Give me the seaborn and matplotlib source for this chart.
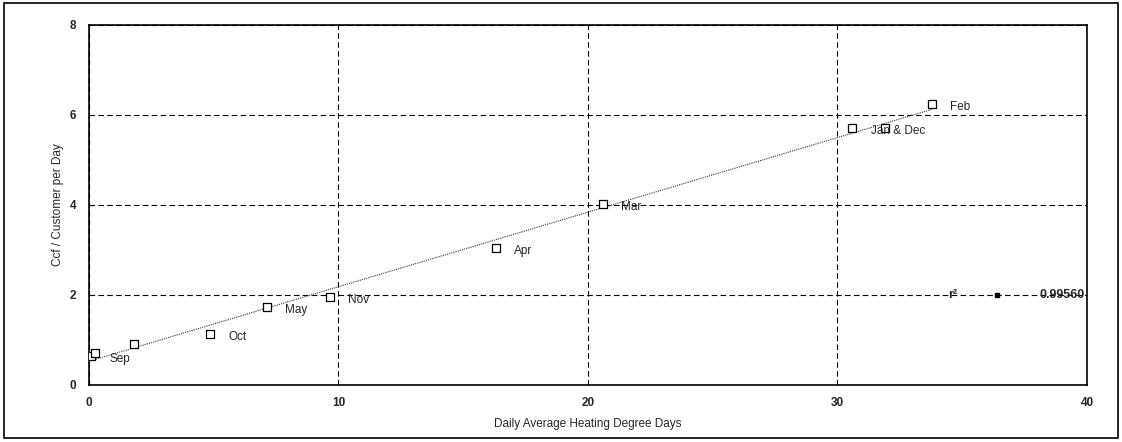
import numpy as np
import pandas as pd
import seaborn as sns
import matplotlib.pyplot as plt
from matplotlib.patches import Rectangle

# data
hdd = [0.1, 0.25, 1.8, 4.85, 7.15, 9.65, 16.3, 20.6, 30.6, 31.9, 33.8]
ccf = [0.64, 0.72, 0.92, 1.13, 1.73, 1.96, 3.04, 4.02, 5.71, 5.70, 6.24]
labels = ['Sep', '', '', 'Oct', 'May', 'Nov', 'Apr', 'Mar', 'Jan & Dec', '', 'Feb']
r_squared = '0.99560'

x_ticks = [0, 10, 20, 30, 40]
y_ticks = [0, 2, 4, 6, 8]

df = pd.DataFrame({'hdd': hdd, 'ccf': ccf, 'label': labels})

sns.set_style('white')
plt.rcParams['font.family'] = ['Liberation Sans', 'DejaVu Sans']

fig = plt.figure(figsize=(11.22, 4.42), dpi=100)
fig.patches.append(Rectangle((0.004, 0.01), 0.992, 0.984, transform=fig.transFigure,
                             fill=False, edgecolor='black', linewidth=1.2))
ax = fig.add_axes([0.0793, 0.129, 0.8895, 0.8145])

# fitted line (dotted) through the data range
sns.regplot(data=df, x='hdd', y='ccf', scatter=False, ci=None, ax=ax,
            line_kws={'color': '#333333', 'linewidth': 0.8, 'linestyle': (0, (1, 1))})

# open square markers
sns.scatterplot(data=df, x='hdd', y='ccf', marker='s', s=34, facecolor='white',
                edgecolor='black', linewidth=0.9, ax=ax, zorder=5)

for _, row in df.iterrows():
    if row['label']:
        ax.annotate(row['label'], (row['hdd'], row['ccf']), textcoords='offset points',
                    xytext=(13, -2), fontsize=8.5, ha='left', va='center', zorder=6)

# r^2 key
ax.text(34.6, 2.0, 'r²', fontsize=9, fontweight='bold', ha='center', va='center')
ax.plot([36.4], [2.0], marker='s', markersize=3.5, color='black')
ax.text(39.9, 2.0, r_squared, fontsize=9, fontweight='bold', ha='right', va='center')

ax.set_xlim(0, 40)
ax.set_ylim(0, 8)
ax.set_xticks(x_ticks)
ax.set_yticks(y_ticks)
ax.tick_params(axis='both', length=0, labelsize=8.5, pad=9)
for lbl in ax.get_xticklabels() + ax.get_yticklabels():
    lbl.set_fontweight('bold')

ax.grid(True, color='black', linestyle=(0, (5, 3)), linewidth=0.8)
for s in ax.spines.values():
    s.set_color('black')
    s.set_linewidth(1.2)

ax.set_xlabel('Daily Average Heating Degree Days', fontsize=8.5, labelpad=6)
ax.set_ylabel('Ccf / Customer per Day', fontsize=8.5, labelpad=4)

plt.savefig('out.png', dpi=100)
